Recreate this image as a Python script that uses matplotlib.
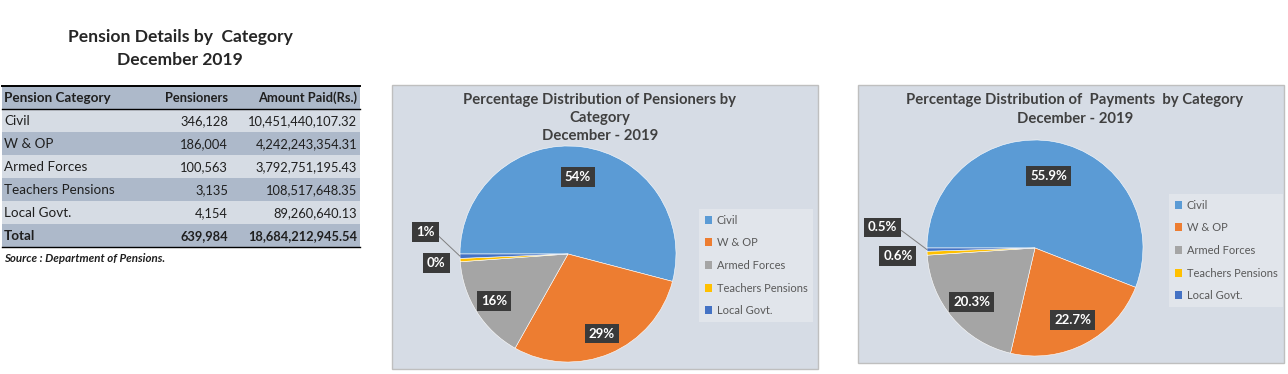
import numpy as np
import matplotlib
matplotlib.use("Agg")
import matplotlib.pyplot as plt
from matplotlib.patches import Rectangle

# figure size in pixels
W, H = 1288, 374

# data from the table
categories = ["Civil", "W & OP", "Armed Forces", "Teachers Pensions", "Local Govt."]
pensioners = [346128, 186004, 100563, 3135, 4154]
amount_paid = [10451440107.32, 4242243354.31, 3792751195.43, 108517648.35, 89260640.13]
colors = ["#5b9bd5", "#ed7d31", "#a5a5a5", "#ffc000", "#4472c4"]

plt.rcParams["font.family"] = ["Lato", "DejaVu Sans"]

fig = plt.figure(figsize=(W / 100, H / 100), dpi=100)
fig.patch.set_facecolor("white")


def fx(x):
    return x / W


def fy(y):
    return 1 - y / H


# background axes in pixel coordinates for the table and the panels
bg = fig.add_axes([0, 0, 1, 1])
bg.set_xlim(0, W)
bg.set_ylim(H, 0)
bg.axis("off")

# ---- table ----
dark_row = "#adb9ca"
light_row = "#d6dce4"
txt_col = "#1f1f1f"
bg.text(180, 37, "Pension Details by  Category", ha="center", va="center",
        fontsize=12.6, fontweight="bold", color="#262626")
bg.text(180, 60, "December 2019", ha="center", va="center",
        fontsize=12.6, fontweight="bold", color="#262626")

x0, x1 = 2, 360
top, rh = 86, 23
rows = [("Pension Category", "Pensioners", "Amount Paid(Rs.)")]
for c, p, a in zip(categories, pensioners, amount_paid):
    rows.append((c, f"{p:,}", f"{a:,.2f}"))
rows.append(("Total", f"{sum(pensioners):,}", f"{sum(amount_paid):,.2f}"))

for i, (c, p, a) in enumerate(rows):
    y = top + i * rh
    bg.add_patch(Rectangle((x0, y), x1 - x0, rh,
                           color=dark_row if i % 2 == 0 else light_row, lw=0))
    bold = "bold" if i in (0, len(rows) - 1) else "normal"
    yc = y + rh / 2 + 0.5
    bg.text(4, yc, c, ha="left", va="center", fontsize=9.7, fontweight=bold, color=txt_col)
    bg.text(228, yc, p, ha="right", va="center", fontsize=9.3, fontweight=bold, color=txt_col)
    bg.text(357, yc, a, ha="right", va="center", fontsize=9.3, fontweight=bold, color=txt_col)

bg.plot([x0, x1], [top, top], color="black", lw=1.4)
bg.plot([x0, x1], [top + rh, top + rh], color="black", lw=1.0)
bg.plot([x0, x1], [top + len(rows) * rh, top + len(rows) * rh], color="black", lw=1.0)
bg.text(4, 258, "Source : Department of Pensions.", ha="left", va="center",
        fontsize=8.3, fontweight="bold", style="italic", color=txt_col)

# ---- pie panels ----
panel_bg = "#d6dce5"


def pie_panel(box, center, radius, title_lines, title_x, title_y, values, fmt,
              label_dist, small_pos, legend_xy):
    bx0, by0, bx1, by1 = box
    bg.add_patch(Rectangle((bx0, by0), bx1 - bx0, by1 - by0, facecolor=panel_bg,
                           edgecolor="#bfbfbf", lw=1.0))
    for k, line in enumerate(title_lines):
        bg.text(title_x, title_y[k], line, ha="center", va="center", fontsize=10.7,
                fontweight="bold", color="#404040")

    cx, cy = center
    ax = fig.add_axes([fx(cx - radius), fy(cy + radius), 2 * radius / W, 2 * radius / H])
    total = sum(values)
    wedges, _ = ax.pie(values, colors=colors, startangle=180, counterclock=False,
                       radius=1, wedgeprops=dict(lw=0.4, edgecolor="white"))
    ax.set_xlim(-1, 1)
    ax.set_ylim(-1, 1)
    ax.patch.set_alpha(0)

    box_style = dict(boxstyle="square,pad=0.3", fc="#3a3a3a", ec="none")
    for i, w in enumerate(wedges):
        ang = np.deg2rad((w.theta1 + w.theta2) / 2)
        label = fmt(values[i] / total * 100)
        if i < 3:
            d = label_dist[i]
            ax.text(d * np.cos(ang), d * np.sin(ang), label, ha="center", va="center",
                    fontsize=9.5, fontweight="bold", color="white", bbox=box_style)
        else:
            # small slices get their labels outside, the last one with a leader line
            tx, ty = small_pos[i - 3]
            if i == 4:
                ax.annotate(label, xy=(np.cos(ang), np.sin(ang)), xytext=(tx, ty),
                            ha="center", va="center", fontsize=9.5, fontweight="bold",
                            color="white", bbox=box_style,
                            arrowprops=dict(arrowstyle="-", color="#7f7f7f", lw=0.7,
                                            relpos=(1, 0.5), shrinkA=0, shrinkB=0))
            else:
                ax.text(tx, ty, label, ha="center", va="center", fontsize=9.5,
                        fontweight="bold", color="white", bbox=box_style)

    leg = ax.legend(wedges, categories, loc="upper left",
                    bbox_to_anchor=(fx(legend_xy[0]), fy(legend_xy[1])),
                    bbox_transform=fig.transFigure, fontsize=8, labelcolor="#595959",
                    frameon=True, fancybox=False, facecolor="#e1e5eb", edgecolor="none",
                    framealpha=1, handlelength=0.7, handleheight=0.7, handletextpad=0.4,
                    labelspacing=1.05, borderpad=0.5, borderaxespad=0)
    for h in leg.legend_handles:
        h.set_edgecolor("none")


def pct0(v):
    return f"{v:.0f}%"


def pct1(v):
    return f"{v:.1f}%"


pie_panel((392, 85, 818, 369), (568, 254), 108,
          ["Percentage Distribution of Pensioners by", "Category", "December - 2019"],
          600, [100, 118, 136], pensioners, pct0,
          [0.72, 0.8, 0.81], [(-1.22, -0.083), (-1.32, 0.20)], (699, 209))

pie_panel((858, 85, 1284, 363), (1035, 248), 108,
          ["Percentage Distribution of  Payments  by Category", "December - 2019"],
          1075, [100, 119], amount_paid, pct1,
          [0.68, 0.75, 0.77], [(-1.27, -0.074), (-1.41, 0.19)], (1169, 194))

fig.savefig("out.png", dpi=100)
